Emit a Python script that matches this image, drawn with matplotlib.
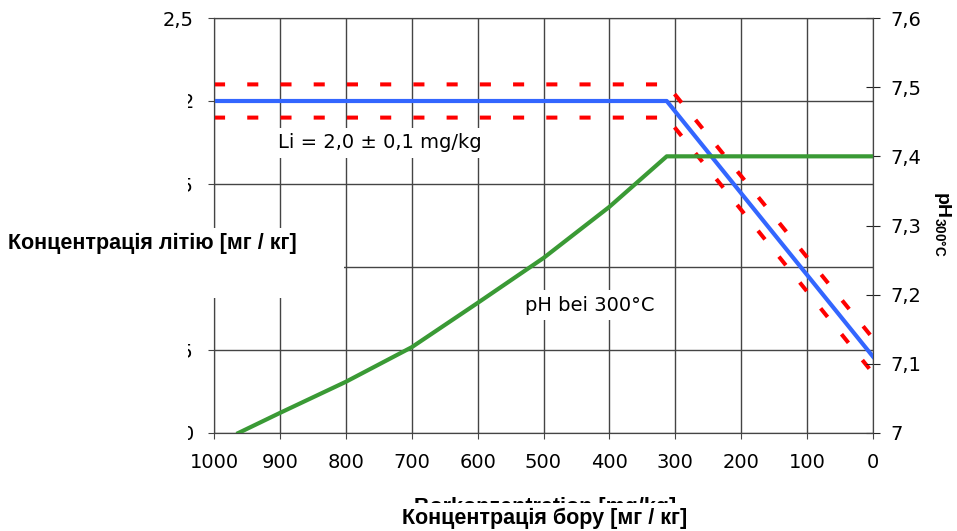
import numpy as np
import matplotlib
matplotlib.use('Agg')
import matplotlib.pyplot as plt
from matplotlib.patches import Rectangle

# boron concentration [mg/kg] vs. lithium [mg/kg] (left axis) and pH300 (right axis)
boron_li = [1000, 313, 0]
li = [2.0, 2.0, 0.46]
li_upper = [2.1, 2.1, 0.57]
li_lower = [1.9, 1.9, 0.36]

boron_ph = [963, 900, 800, 700, 600, 500, 400, 313, 0]
ph = [7.0, 7.029, 7.074, 7.124, 7.188, 7.253, 7.327, 7.4, 7.4]

x_ticks = list(range(0, 1001, 100))
li_ticks = [0, 0.5, 1.0, 1.5, 2.0, 2.5]
li_labels = ['0', '0,5', '1', '1,5', '2', '2,5']
ph_ticks = [7.0, 7.1, 7.2, 7.3, 7.4, 7.5, 7.6]
ph_labels = ['7', '7,1', '7,2', '7,3', '7,4', '7,5', '7,6']

plt.rcParams['font.family'] = ['DejaVu Sans']
plt.rcParams['mathtext.fontset'] = 'custom'
plt.rcParams['mathtext.rm'] = 'Liberation Sans'
plt.rcParams['mathtext.bf'] = 'Liberation Sans:bold'
bold_font = ['Liberation Sans', 'DejaVu Sans']

W, H = 957, 531
fig = plt.figure(figsize=(W / 100, H / 100), dpi=100)


def fx(x):
    return x / W


def fy(y):
    return 1 - y / H


ax = fig.add_axes([fx(214), fy(433), (873 - 214) / W, (433 - 18) / H])
ax2 = ax.twinx()

grid_c = '#444444'
ax.plot(boron_li, li_upper, color='#ff0000', lw=2.9, dashes=(2.75, 5.5), zorder=3)
ax.plot(boron_li, li_lower, color='#ff0000', lw=2.9, dashes=(2.75, 5.5), zorder=3)
ax.plot(boron_li, li, color='#3366ff', lw=3, zorder=4)
ax2.plot(boron_ph, ph, color='#3a9a35', lw=3)

ax.set_xlim(1000, 0)
ax.set_ylim(0, 2.5)
ax2.set_ylim(7.0, 7.6)
ax.set_xticks(x_ticks)
ax.set_yticks(li_ticks)
ax.set_yticklabels(li_labels)
ax2.set_yticks(ph_ticks)
ax2.set_yticklabels(ph_labels)

ax.grid(True, color=grid_c, lw=1)
ax.set_axisbelow(True)
for a in (ax, ax2):
    for s in a.spines.values():
        s.set_color(grid_c)
ax.tick_params(axis='x', direction='out', length=4.5, pad=10, labelsize=14, color=grid_c)
ax.tick_params(axis='y', direction='out', length=4.5, pad=10, labelsize=14, color=grid_c)
ax2.tick_params(axis='y', direction='inout', length=9.5, pad=8, labelsize=14, color='#222222')

ax.text(903, 1.747, 'Li = 2,0 ± 0,1 mg/kg', fontsize=14, ha='left', va='center',
        bbox=dict(fc='white', ec='none', pad=4), zorder=2)
ax.text(528, 0.771, 'pH bei 300°C', fontsize=14, ha='left', va='center',
        bbox=dict(fc='white', ec='none', pad=4), zorder=2)

# German labels pasted over with Ukrainian ones
fig.text(fx(545), fy(507), 'Borkonzentration [mg/kg]', fontsize=15.5, fontweight='bold',
         family=bold_font, ha='center', va='center', zorder=9)
fig.add_artist(Rectangle((0, fy(450)), fx(188), 410 / H, transform=fig.transFigure,
                         fc='white', ec='none', zorder=10))
fig.add_artist(Rectangle((0, fy(298)), fx(344), 70 / H, transform=fig.transFigure,
                         fc='white', ec='none', zorder=10))
fig.add_artist(Rectangle((fx(300), 0), fx(500), 28 / H, transform=fig.transFigure,
                         fc='white', ec='none', zorder=10))
fig.text(fx(152), fy(243), 'Концентрація літію [мг / кг]', fontsize=15.5, fontweight='bold',
         family=bold_font, ha='center', va='center', zorder=11)
fig.text(fx(545), fy(518), 'Концентрація бору [мг / кг]', fontsize=15.5, fontweight='bold',
         family=bold_font, ha='center', va='center', zorder=11)
fig.text(fx(943), fy(224), r'$\mathbf{pH}_{\mathbf{300°C}}$', fontsize=14, rotation=270,
         ha='center', va='center', zorder=11)

fig.savefig('out.png', dpi=100)
